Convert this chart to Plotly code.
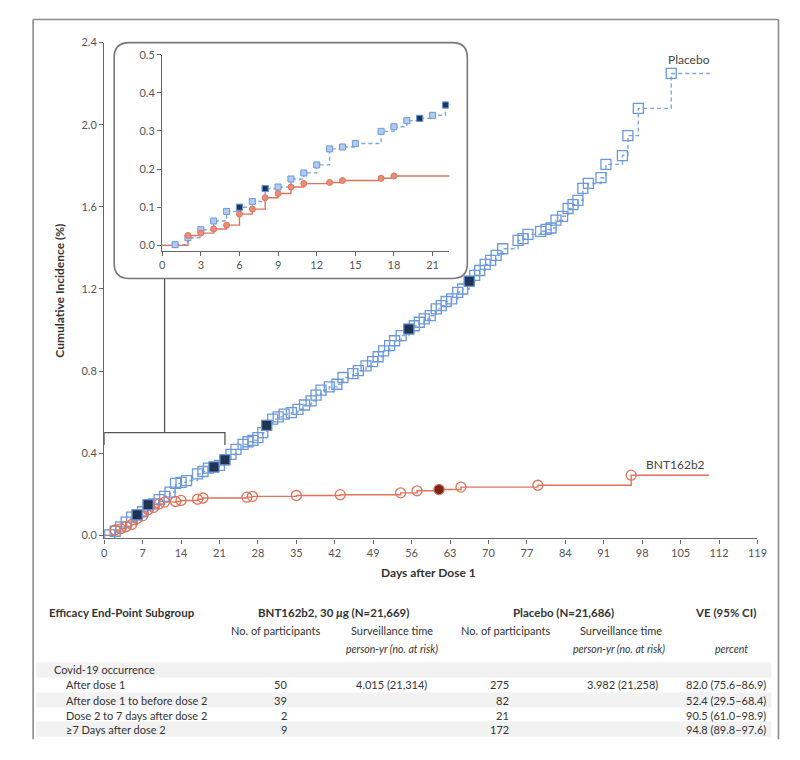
import plotly.graph_objects as go

# page body adds an 8px margin, so the figure is 16px smaller than the window
W, H = 784, 744
OFF = 8
# small correction measured between intended and photographed positions
S, BX, BY = 0.983, 2.0, 7.6
FONT = "Lato, 'Noto Sans', sans-serif"

# ---- Kaplan-Meier style curves (day of case, cumulative incidence %) ----
placebo_day = [1, 2, 3, 4, 5, 6, 7, 8, 9, 10, 11, 12, 13, 14, 15, 17, 18, 19, 20, 21, 22,
               23.1, 24.0, 25.3, 26.2, 27.1, 28.0, 28.9, 29.6, 30.7, 31.7, 32.8, 34.1, 35.3,
               36.5, 37.7, 38.6, 39.5, 41.0, 42.4, 43.5, 45.3, 46.3, 47.7, 48.9, 49.9, 50.9,
               52.0, 52.9, 54.1, 55.5, 56.5, 57.4, 58.3, 59.4, 60.5, 61.4, 62.3, 63.3, 64.4,
               65.3, 66.5, 67.5, 68.4, 69.4, 70.4, 71.4, 72.6, 75.4, 76.3, 77.2, 79.5, 80.5,
               81.4, 82.3, 83.5, 84.5, 85.4, 86.3, 87.2, 88.2, 90.5, 91.4, 94.4, 95.4, 97.3,
               103.3]
placebo_pct = [0.002, 0.020, 0.041, 0.064, 0.089, 0.100, 0.115, 0.149, 0.153, 0.174, 0.190,
               0.211, 0.253, 0.258, 0.267, 0.299, 0.311, 0.327, 0.333, 0.341, 0.368,
               0.394, 0.419, 0.443, 0.456, 0.463, 0.476, 0.500, 0.536, 0.566, 0.577, 0.590,
               0.598, 0.614, 0.635, 0.655, 0.683, 0.707, 0.723, 0.736, 0.769, 0.788, 0.802,
               0.826, 0.846, 0.870, 0.899, 0.924, 0.948, 0.973, 1.005, 1.021, 1.038, 1.054,
               1.070, 1.103, 1.119, 1.139, 1.152, 1.184, 1.200, 1.238, 1.266, 1.290, 1.320,
               1.339, 1.364, 1.396, 1.437, 1.445, 1.466, 1.481, 1.490, 1.497, 1.535, 1.554,
               1.592, 1.611, 1.632, 1.690, 1.714, 1.742, 1.807, 1.850, 1.947, 2.080, 2.250]
placebo_end = 110.3
placebo_severe_day = [6, 8, 20, 22, 29.6, 55.5, 66.5]
placebo_severe_pct = [0.100, 0.149, 0.333, 0.368, 0.536, 1.005, 1.238]

bnt_day = [2, 3, 4, 5, 6, 7, 8, 9, 10, 11, 13, 14, 17, 18, 26, 27, 35, 43, 54, 57, 61, 65, 79, 96]
bnt_pct = [0.026, 0.032, 0.043, 0.053, 0.082, 0.095, 0.125, 0.136, 0.153, 0.162, 0.165, 0.170,
           0.176, 0.182, 0.186, 0.190, 0.194, 0.198, 0.207, 0.217, 0.223, 0.235, 0.244, 0.293]
bnt_end = 110.2
bnt_severe_day = [61]
bnt_severe_pct = [0.223]

main_xticks = list(range(0, 120, 7))
main_yticks = [0.0, 0.4, 0.8, 1.2, 1.6, 2.0, 2.4]
inset_xticks = list(range(0, 22, 3))
inset_yticks = [0.0, 0.1, 0.2, 0.3, 0.4, 0.5]
inset_days = [0, 22]

# ---- table ----
subgroups = ["After dose 1", "After dose 1 to before dose 2",
             "Dose 2 to 7 days after dose 2", "\u22657 Days after dose 2"]
bnt_n = ["50", "39", "2", "9"]
bnt_time = ["4.015 (21,314)", "", "", ""]
plc_n = ["275", "82", "21", "172"]
plc_time = ["3.982 (21,258)", "", "", ""]
ve = ["82.0 (75.6\u201386.9)", "52.4 (29.5\u201368.4)", "90.5 (61.0\u201398.9)", "94.8 (89.8\u201397.6)"]

BLUE = "#6b97dc"
BLUE_LINE = "#7ea6e2"
NAVY = "#1f3452"
RED = "#e0735c"
DARKRED = "#7a2518"


def px(x):
    return ((x - BX) / S - OFF) / W


def py(y):
    return 1 - ((y - BY) / S - OFF) / H


def steps(days, pct, end):
    return [0] + days + [end], [0] + pct + [pct[-1]]


fig = go.Figure()

for ax, msize, inset in (("", 10, False), ("2", 6, True)):
    xa, ya = "x" + ax, "y" + ax
    lx, ly = steps(placebo_day, placebo_pct, placebo_end)
    fig.add_trace(go.Scatter(x=lx, y=ly, xaxis=xa, yaxis=ya, mode="lines", line_shape="hv",
                             line=dict(color=BLUE_LINE, width=1.4, dash="4px,3px")))
    lx, ly = steps(bnt_day, bnt_pct, bnt_end)
    fig.add_trace(go.Scatter(x=lx, y=ly, xaxis=xa, yaxis=ya, mode="lines", line_shape="hv",
                             line=dict(color=RED, width=1.4)))
    if inset:
        pm = dict(symbol="square", size=msize, color="#b3cbef", line=dict(color=BLUE, width=1))
        bm = dict(symbol="circle", size=msize, color="#ea8d78", line=dict(color=RED, width=1))
    else:
        pm = dict(symbol="square-open", size=msize, color=BLUE, line=dict(width=1.3))
        bm = dict(symbol="circle-open", size=msize, color=RED, line=dict(width=1.3))
    fig.add_trace(go.Scatter(x=placebo_day, y=placebo_pct, xaxis=xa, yaxis=ya,
                             mode="markers", marker=pm))
    fig.add_trace(go.Scatter(x=bnt_day, y=bnt_pct, xaxis=xa, yaxis=ya,
                             mode="markers", marker=bm))
    fig.add_trace(go.Scatter(x=placebo_severe_day, y=placebo_severe_pct, xaxis=xa, yaxis=ya,
                             mode="markers",
                             marker=dict(symbol="square", size=msize, color=NAVY,
                                         line=dict(color=BLUE, width=1))))
    fig.add_trace(go.Scatter(x=bnt_severe_day, y=bnt_severe_pct, xaxis=xa, yaxis=ya,
                             mode="markers",
                             marker=dict(symbol="circle", size=msize, color=DARKRED,
                                         line=dict(color=RED, width=1))))

axis_style = dict(showline=True, linecolor="#666", linewidth=1.3, ticks="outside", ticklen=4,
                  tickcolor="#666", tickwidth=1.2, showgrid=False, zeroline=False,
                  tickfont=dict(family=FONT, size=11, color="#555"))

fig.update_layout(
    width=W, height=H, margin=dict(l=0, r=0, t=0, b=0),
    paper_bgcolor="white", plot_bgcolor="rgba(0,0,0,0)", showlegend=False,
    xaxis=dict(domain=[px(103), px(756)], range=[0, 119], tickvals=main_xticks,
               anchor="y", **axis_style),
    yaxis=dict(domain=[py(537), py(43)], range=[-0.015, 2.4], tickvals=main_yticks,
               tickformat=".1f", anchor="x", **axis_style),
    xaxis2=dict(domain=[px(161), px(448)], range=[0, 22.3], tickvals=inset_xticks,
                anchor="y2", **axis_style),
    yaxis2=dict(domain=[py(250.7), py(55)], range=[-0.015, 0.5], tickvals=inset_yticks,
                tickformat=".1f", anchor="x2", **axis_style),
)

shapes = []
gray = dict(color="#8a8a8a", width=1.6)
# outer frame
shapes.append(dict(type="line", xref="paper", yref="paper", x0=px(32), x1=px(777),
                   y0=py(20), y1=py(20), line=gray))
for xf in (32, 777):
    shapes.append(dict(type="line", xref="paper", yref="paper", x0=px(xf), x1=px(xf),
                       y0=py(20), y1=py(737), line=gray))

# rounded inset box
L, T, R, B, r = 113, 43, 466, 278, 15
path = (f"M {px(L + r)},{py(T)} L {px(R - r)},{py(T)} Q {px(R)},{py(T)} {px(R)},{py(T + r)} "
        f"L {px(R)},{py(B - r)} Q {px(R)},{py(B)} {px(R - r)},{py(B)} "
        f"L {px(L + r)},{py(B)} Q {px(L)},{py(B)} {px(L)},{py(B - r)} "
        f"L {px(L)},{py(T + r)} Q {px(L)},{py(T)} {px(L + r)},{py(T)} Z")
shapes.append(dict(type="path", xref="paper", yref="paper", path=path,
                   line=dict(color="#777", width=1.6), layer="below"))

# bracket linking days 0-22 to the inset
d0, d1 = inset_days
mid = (d0 + d1) / 2
shapes.append(dict(type="path", xref="x", yref="y",
                   path=f"M {d0},0.44 L {d0},0.5 L {d1},0.5 L {d1},0.44",
                   line=dict(color="#555", width=1.3)))
shapes.append(dict(type="line", xref="x", yref="paper", x0=mid, x1=mid,
                   y0=py(432), y1=py(B), line=dict(color="#555", width=1.3)))

# table shading (alternate rows)
row_y = [668, 683, 698, 713, 727]
for i, yc in enumerate(row_y):
    if i % 2 == 0:
        shapes.append(dict(type="rect", xref="paper", yref="paper", x0=px(35), x1=px(770),
                           y0=py(yc - 7.5), y1=py(yc + 7.5), fillcolor="#f2f2f2",
                           line=dict(width=0), layer="below"))
fig.update_layout(shapes=shapes)


def label(text, x, y, xanchor="center", size=11, color="#333", angle=0):
    return dict(text=text, x=px(x), y=py(y), xref="paper", yref="paper", showarrow=False,
                xanchor=xanchor, yanchor="middle", textangle=angle,
                font=dict(family=FONT, size=size, color=color))


ann = [
    label("Placebo", 688, 60, size=12, color="#444"),
    label("BNT162b2", 674, 463, size=12, color="#444"),
    label("<b>Cumulative Incidence (%)</b>", 58, 290, size=12, color="#333", angle=-90),
    label("<b>Days after Dose 1</b>", 427, 571, size=12, color="#333"),
    # table header
    label("<b>Efficacy End-Point Subgroup</b>", 46, 611, xanchor="left", size=11.5),
    label("<b>BNT162b2, 30 <i>\u03bc</i>g (N=21,669)</b>", 332, 611, size=11.5),
    label("<b>Placebo (N=21,686)</b>", 562, 611, size=11.5),
    label("<b>VE (95% CI)</b>", 724, 611, size=11.5),
    label("No. of participants", 274, 629),
    label("Surveillance time", 391, 629),
    label("No. of participants", 504, 629),
    label("Surveillance time", 620, 629),
    label("<i>person-yr (no. at risk)</i>", 391, 647, size=10.5),
    label("<i>person-yr (no. at risk)</i>", 618, 647, size=10.5),
    label("<i>percent</i>", 730, 647, size=10.5),
    label("Covid-19 occurrence", 51, row_y[0], xanchor="left"),
]
for i, name in enumerate(subgroups):
    yc = row_y[i + 1]
    ann.append(label(name, 63, yc, xanchor="left"))
    ann.append(label(bnt_n[i], 288, yc, xanchor="right"))
    if bnt_time[i]:
        ann.append(label(bnt_time[i], 390, yc))
    ann.append(label(plc_n[i], 510, yc, xanchor="right"))
    if plc_time[i]:
        ann.append(label(plc_time[i], 659, yc, xanchor="right"))
    ann.append(label(ve[i], 767, yc, xanchor="right"))
fig.update_layout(annotations=ann)

fig.write_html("out.html")
